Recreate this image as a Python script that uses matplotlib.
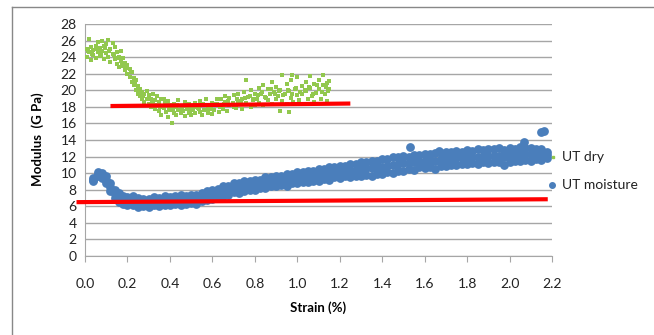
import matplotlib.pyplot as plt
from matplotlib.lines import Line2D

# UT dry: scattered readings (strain %, modulus GPa)
dry_strain = [0.01, 0.01, 0.02, 0.02, 0.03, 0.03, 0.04, 0.04, 0.05, 0.05,
              0.06, 0.06, 0.07, 0.07, 0.08, 0.08, 0.09, 0.09, 0.10, 0.10,
              0.11, 0.11, 0.12, 0.12, 0.13, 0.13, 0.14, 0.14, 0.15, 0.15,
              0.16, 0.16, 0.17, 0.17, 0.18, 0.18, 0.19, 0.19, 0.20, 0.20,
              0.21, 0.21, 0.22, 0.22, 0.23, 0.23, 0.24, 0.24, 0.25, 0.25,
              0.26, 0.26, 0.27, 0.27, 0.28, 0.28, 0.29, 0.29, 0.30, 0.30,
              0.31, 0.31, 0.32, 0.32, 0.33, 0.33, 0.34, 0.34, 0.35, 0.35,
              0.36, 0.36, 0.37, 0.37, 0.38, 0.38, 0.39, 0.39, 0.40, 0.40,
              0.41, 0.42, 0.42, 0.43, 0.43, 0.44, 0.44, 0.45, 0.46, 0.46,
              0.47, 0.47, 0.48, 0.49, 0.49, 0.50, 0.50, 0.51, 0.52, 0.52,
              0.53, 0.54, 0.54, 0.55, 0.56, 0.56, 0.57, 0.58, 0.58, 0.59,
              0.60, 0.60, 0.61, 0.62, 0.62, 0.63, 0.64, 0.64, 0.65, 0.66,
              0.66, 0.67, 0.68, 0.68, 0.70, 0.70, 0.71, 0.72, 0.72, 0.73,
              0.74, 0.74, 0.75, 0.76, 0.76, 0.77, 0.78, 0.78, 0.79, 0.80,
              0.80, 0.81, 0.82, 0.82, 0.83, 0.84, 0.84, 0.85, 0.86, 0.86,
              0.87, 0.88, 0.88, 0.89, 0.90, 0.90, 0.91, 0.92, 0.92, 0.93,
              0.93, 0.94, 0.95, 0.95, 0.96, 0.97, 0.97, 0.98, 0.99, 1.00,
              1.00, 1.01, 1.02, 1.02, 1.03, 1.04, 1.04, 1.05, 1.06, 1.06,
              1.07, 1.08, 1.08, 1.09, 1.10, 1.10, 1.11, 1.12, 1.12, 1.13,
              1.14, 1.14, 1.15, 1.15, 0.96, 0.975,
              0.015, 0.035, 0.055, 0.075, 0.095, 0.115, 0.135, 0.155, 0.175, 0.195,
              0.215, 0.235, 0.255, 0.275, 0.295, 0.315, 0.335, 0.355, 0.375, 0.395,
              0.415, 0.435, 0.455, 0.475, 0.495, 0.515, 0.535, 0.555, 0.575, 0.595,
              0.615, 0.635, 0.655, 0.675, 0.695, 0.715, 0.735, 0.755, 0.775, 0.795,
              0.815, 0.835, 0.855, 0.875, 0.895, 0.915, 0.935, 0.955, 0.975, 0.995,
              1.015, 1.035, 1.055, 1.075, 1.095, 1.115, 1.135, 1.145]
dry_mod = [24.0, 25.0, 26.2, 24.6, 23.6, 25.2, 24.3, 24.9, 23.9, 25.4,
           24.6, 25.8, 24.1, 25.1, 24.8, 26.0, 25.3, 23.8, 24.5, 25.6,
           24.0, 26.1, 25.0, 23.4, 24.4, 25.7, 23.8, 25.2, 24.6, 23.2,
           24.0, 22.8, 23.5, 24.8, 22.9, 23.9, 22.4, 23.3, 22.0, 23.0,
           21.6, 22.6, 21.0, 22.2, 20.6, 21.5, 20.0, 21.2, 19.6, 20.5,
           19.3, 20.2, 19.0, 19.8, 18.6, 19.5, 18.9, 19.9, 18.3, 19.4,
           18.0, 19.0, 18.5, 19.6, 17.8, 18.8, 18.2, 19.3, 17.5, 18.6,
           17.0, 18.9, 17.9, 19.0, 17.4, 18.3, 16.8, 18.7, 17.6, 18.2,
           16.1, 17.3, 18.4, 17.0, 18.0, 17.6, 18.8, 17.2, 18.1, 17.5,
           16.9, 18.6, 17.8, 17.3, 18.3, 17.0, 18.0, 17.6, 18.5, 17.2,
           17.9, 17.4, 18.7, 17.0, 18.2, 17.6, 18.9, 17.3, 18.0, 17.8,
           18.5, 17.1, 17.6, 18.3, 19.0, 17.4, 18.1, 18.9, 17.8, 18.6,
           19.3, 17.5, 18.2, 19.1, 18.0, 19.4, 17.9, 18.7, 19.6, 18.3,
           19.0, 17.8, 19.8, 21.3, 18.5, 19.2, 18.0, 20.0, 18.8, 19.5,
           18.2, 19.0, 20.3, 18.5, 19.6, 18.2, 20.6, 19.2, 18.8, 20.1,
           19.5, 18.4, 21.0, 19.8, 18.9, 20.4, 19.3, 17.5, 20.0, 21.8,
           18.7, 19.6, 20.8, 18.3, 19.9, 19.1, 21.2, 18.6, 20.2, 19.4,
           21.6, 18.8, 20.5, 19.6, 18.4, 21.0, 19.9, 18.9, 20.3, 21.7,
           19.3, 20.8, 18.6, 19.7, 21.3, 20.1, 19.0, 20.6, 21.9, 19.5,
           20.9, 18.7, 20.2, 21.1, 17.4, 21.9,
           24.7, 24.4, 25.0, 24.3, 25.1, 24.7, 24.2, 23.9, 23.2, 22.7,
           22.2, 20.9, 19.9, 19.3, 19.0, 18.6, 18.2, 18.0, 18.5, 17.9,
           17.7, 18.2, 17.7, 18.1, 17.5, 18.0, 17.8, 18.3, 17.6, 18.1,
           18.4, 18.0, 18.4, 18.7, 18.5, 19.0, 18.6, 19.1, 19.3, 18.9,
           19.4, 19.8, 19.1, 20.2, 19.6, 19.9, 19.4, 20.0, 19.6, 20.3,
           19.8, 20.0, 20.4, 19.6, 20.6, 19.8, 20.4, 19.9]

# UT moisture: dense band, read as lower / middle / upper rows of points
moist_strain = [0.04, 0.06, 0.08, 0.10, 0.12, 0.14, 0.16, 0.18, 0.20, 0.225,
                0.25, 0.275, 0.30, 0.325, 0.35, 0.375, 0.40, 0.425, 0.45, 0.475,
                0.50, 0.525, 0.55, 0.575, 0.60, 0.625, 0.65, 0.675, 0.70, 0.725,
                0.75, 0.775, 0.80, 0.825, 0.85, 0.875, 0.90, 0.925, 0.95, 0.975,
                1.00, 1.025, 1.05, 1.075, 1.10, 1.125, 1.15, 1.175, 1.20, 1.225,
                1.25, 1.275, 1.30, 1.325, 1.35, 1.375, 1.40, 1.425, 1.45, 1.475,
                1.50, 1.525, 1.55, 1.575, 1.60, 1.625, 1.65, 1.675, 1.70, 1.725,
                1.75, 1.775, 1.80, 1.825, 1.85, 1.875, 1.90, 1.925, 1.95, 1.975,
                2.00, 2.025, 2.05, 2.075, 2.10, 2.125, 2.15, 2.175]
moist_lo = [9.0, 9.6, 9.4, 8.8, 7.8, 7.0, 6.5, 6.3, 6.1, 6.2,
            5.9, 6.0, 5.9, 6.1, 6.0, 6.2, 6.1, 6.3, 6.2, 6.3,
            6.4, 6.3, 6.6, 6.7, 6.9, 7.0, 7.3, 7.4, 7.7, 7.6,
            7.9, 8.0, 8.0, 8.2, 8.2, 8.4, 8.4, 8.6, 8.5, 8.8,
            8.8, 8.9, 8.9, 9.1, 9.1, 9.3, 9.2, 9.5, 9.4, 9.6,
            9.5, 9.7, 9.7, 9.8, 9.7, 9.9, 9.9, 10.1, 10.0, 10.3,
            10.2, 10.5, 10.4, 10.7, 10.6, 10.8, 10.5, 10.9, 10.9, 11.0,
            11.0, 11.1, 11.1, 11.2, 11.1, 11.3, 11.2, 11.4, 11.3, 11.0,
            11.4, 11.5, 11.5, 11.6, 11.5, 11.7, 11.6, 11.8]
moist_mid = [9.2, 9.9, 9.7, 9.2, 8.3, 7.5, 7.0, 6.8, 6.7, 6.6,
             6.4, 6.5, 6.4, 6.6, 6.5, 6.6, 6.7, 6.7, 6.8, 6.8,
             6.9, 6.9, 7.1, 7.2, 7.4, 7.6, 7.8, 8.0, 8.2, 8.3,
             8.4, 8.5, 8.6, 8.7, 8.9, 8.9, 9.1, 9.1, 9.3, 9.3,
             9.5, 9.5, 9.6, 9.7, 9.8, 9.9, 10.0, 10.1, 10.1, 10.3,
             10.3, 10.4, 10.5, 10.6, 10.6, 10.7, 10.8, 10.9, 11.0, 11.1,
             11.2, 11.2, 11.4, 11.4, 11.5, 11.6, 11.5, 11.7, 11.7, 11.8,
             11.8, 11.9, 11.9, 12.0, 12.0, 12.0, 12.1, 12.1, 12.1, 12.0,
             12.2, 12.2, 12.3, 12.3, 12.3, 12.3, 12.2, 12.2]
moist_hi = [9.4, 10.1, 10.0, 9.6, 8.8, 8.0, 7.6, 7.3, 7.1, 7.2,
            7.0, 6.9, 6.9, 7.1, 7.0, 7.2, 7.1, 7.3, 7.4, 7.2,
            7.4, 7.4, 7.6, 7.8, 8.0, 8.1, 8.4, 8.5, 8.8, 8.8,
            9.0, 9.0, 9.2, 9.2, 9.5, 9.5, 9.7, 9.7, 9.9, 9.9,
            10.1, 10.1, 10.3, 10.3, 10.5, 10.5, 10.7, 10.7, 10.9, 10.9,
            11.1, 11.1, 11.3, 11.3, 11.5, 11.5, 11.7, 11.7, 11.9, 11.9,
            12.1, 12.0, 12.2, 12.2, 12.3, 12.3, 12.4, 12.4, 12.6, 12.5,
            12.7, 12.6, 12.8, 12.7, 12.9, 12.8, 12.9, 12.9, 13.0, 12.8,
            13.0, 12.9, 13.1, 13.0, 13.0, 12.9, 12.9, 12.6]
# a few isolated points above the band
moist_out_strain = [1.53, 1.67, 2.07, 2.15, 2.16]
moist_out_mod = [13.2, 12.7, 13.8, 15.0, 15.1]

# linear trend lines (start / end)
dry_fit_x = [0.12, 1.25]
dry_fit_y = [18.1, 18.4]
moist_fit_x = [-0.04, 2.18]
moist_fit_y = [6.5, 6.85]

blue = '#4A7EBB'
green = '#92C84E'
red = '#FF0000'
grid_gray = '#A6A6A6'

plt.rcParams['font.family'] = ['Lato', 'DejaVu Sans']

fig = plt.figure(figsize=(6.54, 3.35), dpi=100)
ax = fig.add_axes([85 / 654, 1 - 256 / 335, (552 - 85) / 654, (256 - 24) / 335])

# outer chart frame (only top and left edges are visible)
fig.add_artist(Line2D([12 / 654, 12 / 654], [0, 1 - 7 / 335], color='#888888', lw=1))
fig.add_artist(Line2D([12 / 654, 1], [1 - 7 / 335, 1 - 7 / 335], color='#888888', lw=1))

ax.scatter(dry_strain, dry_mod, s=7, marker='s', color=green, linewidths=0, zorder=3)
ms = 40
ax.scatter(moist_strain, moist_lo, s=ms, color=blue, linewidths=0, zorder=3)
ax.scatter(moist_strain, moist_mid, s=ms, color=blue, linewidths=0, zorder=3)
ax.scatter(moist_strain, moist_hi, s=ms, color=blue, linewidths=0, zorder=3)
ax.scatter(moist_out_strain, moist_out_mod, s=ms, color=blue, linewidths=0, zorder=3)

ax.plot(dry_fit_x, dry_fit_y, color=red, lw=3, zorder=4, solid_capstyle='butt')
ax.plot(moist_fit_x, moist_fit_y, color=red, lw=3, zorder=4, solid_capstyle='butt',
        clip_on=False)

ax.set_xlim(0, 2.2)
ax.set_ylim(0, 28)
ax.set_xticks([i * 0.2 for i in range(12)])
ax.set_xticklabels(['%.1f' % (i * 0.2) for i in range(12)])
ax.set_yticks(range(0, 29, 2))

ax.grid(axis='y', color=grid_gray, lw=1)
ax.set_axisbelow(True)
for side in ['top', 'right']:
    ax.spines[side].set_visible(False)
for side in ['left', 'bottom']:
    ax.spines[side].set_color(grid_gray)
ax.tick_params(axis='y', length=0, pad=6, labelsize=10, labelcolor='#222222')
ax.tick_params(axis='x', direction='out', length=4, color=grid_gray, pad=12,
               labelsize=10, labelcolor='#222222')

ax.set_xlabel('Strain (%)', fontsize=9.5, fontweight='bold', labelpad=8)
fig.text(38 / 654, 1 - 139 / 335, 'Modulus  (G Pa)', rotation=90, fontsize=9.5,
         fontweight='bold', ha='center', va='center')

# legend at the right of the plot area
fig.add_artist(Line2D([553 / 654], [1 - 157 / 335], marker='s', ms=2, color=green, lw=0))
fig.text(562 / 654, 1 - 157 / 335, 'UT dry', fontsize=10, va='center', color='#222222')
fig.add_artist(Line2D([552 / 654], [1 - 185 / 335], marker='o', ms=4, color=blue, lw=0))
fig.text(562 / 654, 1 - 185 / 335, 'UT moisture', fontsize=10, va='center', color='#222222')

fig.savefig('out.png', dpi=100)
